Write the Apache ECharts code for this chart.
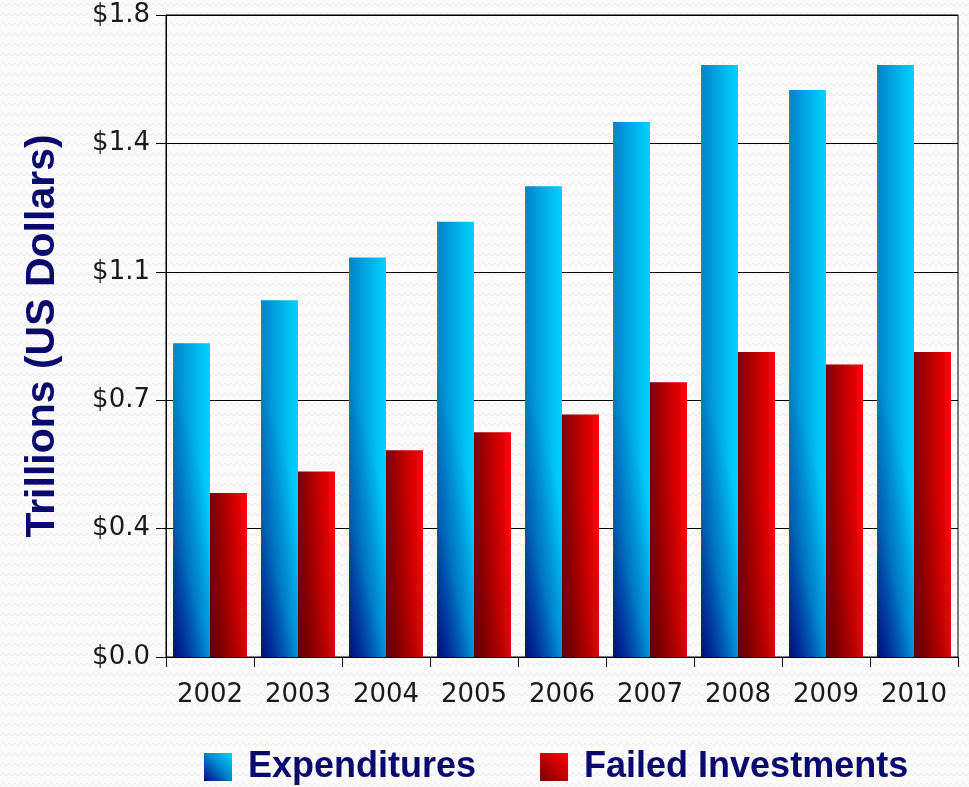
<!DOCTYPE html>
<html><head><meta charset="utf-8">
<script src="https://cdn.jsdelivr.net/npm/echarts@6/dist/echarts.min.js"></script>
<style>html,body{margin:0;padding:0;background:#fff}#c{width:969px;height:787px}</style>
</head><body><div id="c"></div>
<script>
const years = ['2002','2003','2004','2005','2006','2007','2008','2009','2010'];
const expenditures = [0.88, 1.00, 1.12, 1.22, 1.32, 1.50, 1.66, 1.59, 1.66];
const failedInvestments = [0.46, 0.52, 0.58, 0.63, 0.68, 0.77, 0.855, 0.82, 0.855];
const yMax = 1.8, yInterval = 0.36;

const PLOT_H = 642, BAR_W = 37;
function shade(value, L, tr, rgb, stops) {
  const h = Math.max(1, value / yMax * PLOT_H);
  const a = tr / BAR_W, b = 1 / L, d = a * a + b * b;
  const vx = a / d, vy = b / d;
  return new echarts.graphic.LinearGradient(0, 1, vx / BAR_W, 1 - vy / h,
    stops.map(s => ({offset: s[0], color: 'rgba(' + rgb + ',' + s[1] + ')'})));
}
const blueBase = new echarts.graphic.LinearGradient(0, 0, 1, 0, [{offset:0,color:'#0082c8'},{offset:1,color:'#00d2ff'}]);
const redBase = new echarts.graphic.LinearGradient(0, 0, 1, 0, [{offset:0,color:'#800000'},{offset:1,color:'#ff0000'}]);
const blueIcon = new echarts.graphic.LinearGradient(0, 1, 1, 0, [{offset:0,color:'#000a80'},{offset:0.5,color:'#0080c8'},{offset:1,color:'#00d8ff'}]);
const redIcon = new echarts.graphic.LinearGradient(0, 1, 1, 0, [{offset:0,color:'#700000'},{offset:0.5,color:'#c00000'},{offset:1,color:'#ff0000'}]);

// background wavy pattern
const pc = document.createElement('canvas');
pc.width = 12; pc.height = 10;
const px = pc.getContext('2d');
px.fillStyle = '#fbfbfb'; px.fillRect(0,0,12,10);
px.strokeStyle = '#ececec'; px.lineWidth = 1;
px.beginPath(); px.moveTo(0,6); px.lineTo(3,3); px.lineTo(6,6); px.lineTo(9,3); px.lineTo(12,6); px.stroke();

const chart = echarts.init(document.getElementById('c'), null, {renderer:'canvas'});
const navy = '#0a0a6e';
chart.setOption({
  backgroundColor: {image: pc, repeat: 'repeat'},
  animation: false,
  grid: {left: 166, right: 11, top: 15, bottom: 130, show: true, borderColor: '#000', borderWidth: 1, backgroundColor: 'transparent'},
  legend: {
    left: 199, top: 744, itemWidth: 28, itemHeight: 28, itemGap: 64, icon: 'rect',
    textStyle: {fontFamily: "'Liberation Sans', Arial, sans-serif", fontWeight: 'bold', fontSize: 36, color: navy, padding: [0,0,0,11]},
    data: [
      {name: 'Expenditures', itemStyle: {color: blueIcon}},
      {name: 'Failed Investments', itemStyle: {color: redIcon}}
    ]
  },
  xAxis: [{
    type: 'category', data: years,
    axisLine: {lineStyle: {color: '#000', width: 1}},
    axisTick: {show: true, length: 10, lineStyle: {color: '#000'}},
    axisLabel: {margin: 25, fontFamily: 'DejaVu Sans', fontSize: 26, color: '#1a1a1a'}
  }, {
    type: 'category', data: years, show: false
  }],
  yAxis: {
    type: 'value', min: 0, max: yMax, interval: yInterval,
    name: 'Trillions (US Dollars)', nameLocation: 'middle', nameRotate: 90, nameGap: 103,
    nameTextStyle: {fontFamily: "'Liberation Sans', Arial, sans-serif", fontWeight: 'bold', fontSize: 41, color: navy},
    axisLine: {show: true, lineStyle: {color: '#000', width: 1}},
    axisTick: {show: true, length: 10, lineStyle: {color: '#000'}},
    splitLine: {show: true, lineStyle: {color: '#000', width: 1}},
    axisLabel: {margin: 16, fontFamily: 'DejaVu Sans', fontSize: 26, color: '#1a1a1a', formatter: v => '$' + v.toFixed(1)}
  },
  series: [
    {name: 'Expenditures', type: 'bar', data: expenditures, barGap: '0%', barCategoryGap: '16%', itemStyle: {color: blueBase}},
    {name: 'Failed Investments', type: 'bar', data: failedInvestments, barGap: '0%', barCategoryGap: '16%', itemStyle: {color: redBase}},
    {name: 'expShade', type: 'bar', xAxisIndex: 1, data: expenditures, barGap: '0%', barCategoryGap: '16%', silent: true, z: 3,
      itemStyle: {color: p => shade(p.value, 300, 0.5, '0,0,120', [[0,0.9],[0.5,0.3],[1,0]])}},
    {name: 'failShade', type: 'bar', xAxisIndex: 1, data: failedInvestments, barGap: '0%', barCategoryGap: '16%', silent: true, z: 3,
      itemStyle: {color: p => shade(p.value, 250, 0.5, '50,0,0', [[0,0.45],[0.5,0.15],[1,0]])}}
  ]
});
</script></body></html>
